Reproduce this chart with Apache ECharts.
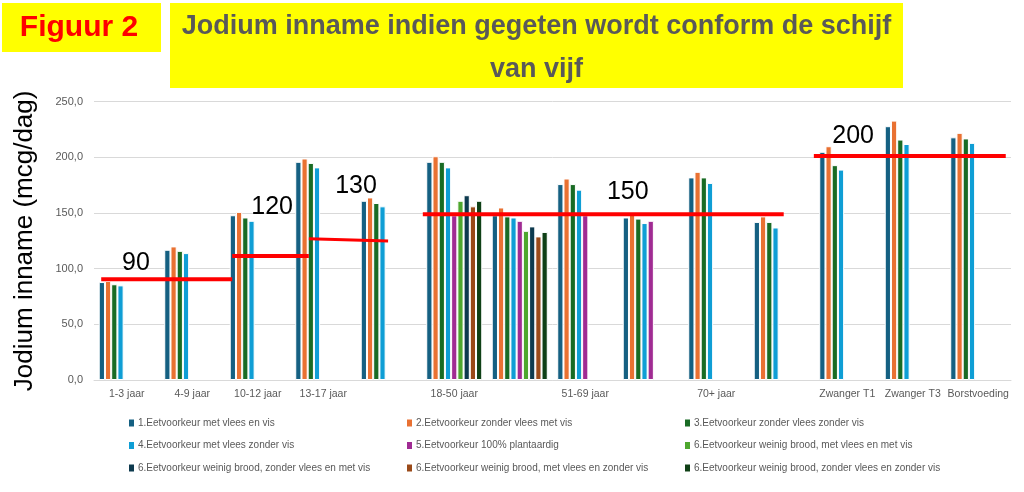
<!DOCTYPE html>
<html><head><meta charset="utf-8">
<script src="https://cdn.jsdelivr.net/npm/echarts@6/dist/echarts.min.js"></script>
<style>html,body{margin:0;padding:0;background:#fff}#c{width:1024px;height:492px}</style>
</head><body><div id="c"></div>
<script>
const categories = ['1-3 jaar','4-9 jaar','10-12 jaar','13-17 jaar','','18-50 jaar','','51-69 jaar','','70+ jaar','','Zwanger T1','Zwanger T3','Borstvoeding'];
const seriesNames = [
  '1.Eetvoorkeur met vlees en vis',
  '2.Eetvoorkeur zonder vlees met vis',
  '3.Eetvoorkeur zonder vlees zonder vis',
  '4.Eetvoorkeur met vlees zonder vis',
  '5.Eetvoorkeur 100% plantaardig',
  '6.Eetvoorkeur weinig brood, met vlees en met vis',
  '6.Eetvoorkeur weinig brood, zonder vlees en met vis',
  '6.Eetvoorkeur weinig brood, met vlees en zonder vis',
  '6.Eetvoorkeur weinig brood, zonder vlees en zonder vis'
];
const s1 = [88, 117, 148, 196, 161, 196, 148, 176, 146, 182, 142, 205, 228, 218];
const s2 = [89, 120, 151, 199, 164, 201, 155, 181, 149, 187, 147, 210, 233, 222];
const s3 = [86, 116, 146, 195, 159, 196, 147, 176, 145, 182, 142, 193, 216, 217];
const s4 = [85, 114, 143, 191, 156, 191, 146, 171, 141, 177, 137, 189, 212, 213];
const s5 = ['-','-','-','-','-', 148, 143, 148, 143, '-','-','-','-','-'];
const s6 = ['-','-','-','-','-', 161, 134, '-','-','-','-','-','-','-'];
const s7 = ['-','-','-','-','-', 166, 138, '-','-','-','-','-','-','-'];
const s8 = ['-','-','-','-','-', 156, 129, '-','-','-','-','-','-','-'];
const s9 = ['-','-','-','-','-', 161, 133, '-','-','-','-','-','-','-'];
const seriesValues = [s1, s2, s3, s4, s5, s6, s7, s8, s9];
// reference lines (category units on x, mcg/dag on y)
const refLineStart = [[-0.39, 90.4], [1.61, 111.4], [2.78, 126.9], [4.52, 148.8], [10.49, 201.2]];
const refLineEnd   = [[1.61, 90.4], [2.78, 111.4], [3.99, 124.9], [10.03, 148.8], [13.42, 201.2]];
const refLabels = [[0.14, 105, '90'], [2.22, 155, '120'], [3.50, 174, '130'], [7.65, 169, '150'], [11.09, 219, '200']];

const colors = ['#156082','#E97132','#196B24','#0F9ED5','#A02B93','#4EA72E','#0D3A4E','#9A4A19','#0F4016'];
const font = 'Liberation Sans, Arial, sans-serif';

const chart = echarts.init(document.getElementById('c'), null, {renderer: 'canvas'});

const barSeries = seriesValues.map((vals, i) => ({
  name: seriesNames[i], type: 'bar', data: vals,
  barGap: '0%', barCategoryGap: '14.5%',
  itemStyle: {color: colors[i], borderColor: '#ffffff', borderWidth: 1},
  emphasis: {disabled: true}
}));
const lineSeries = refLineStart.map((p, i) => ({
  type: 'line', xAxisIndex: 1, data: [p, refLineEnd[i]], symbol: 'none', silent: true,
  lineStyle: {color: '#ff0000', width: i === 2 ? 3 : 4}, z: 5
}));
const labelSeries = {
  type: 'scatter', xAxisIndex: 1, data: refLabels, symbolSize: 0, silent: true, z: 6,
  itemStyle: {opacity: 1},
  label: {show: true, position: 'inside', formatter: p => p.value[2], color: '#000000', fontSize: 25, fontFamily: font, textBorderWidth: 0}
};

function legendCol(idxs, left) {
  return {
    orient: 'vertical', left: left, top: 417, padding: 0, itemGap: 10.5,
    itemWidth: 7, itemHeight: 9, icon: 'rect', selectedMode: false,
    data: idxs.map(i => seriesNames[i]),
    textStyle: {fontSize: 10, color: '#595959', fontFamily: font, lineHeight: 12, padding: [0,0,0,-2]}
  };
}

chart.setOption({
  animation: false,
  color: colors,
  grid: {left: 94, right: 13, top: 101.7, bottom: 112},
  xAxis: [{
    type: 'category', data: categories,
    axisLine: {show: true, lineStyle: {color: '#d9d9d9'}},
    axisTick: {show: false},
    axisLabel: {interval: 0, color: '#595959', fontSize: 10.5, fontFamily: font, margin: 9}
  }, {
    type: 'value', min: -0.5, max: 13.5, show: false
  }],
  yAxis: {
    type: 'value', min: 0, max: 250, interval: 50,
    name: 'Jodium inname (mcg/dag)', nameLocation: 'middle', nameGap: 56,
    nameTextStyle: {fontSize: 26, color: '#000', fontFamily: font},
    axisLine: {show: false}, axisTick: {show: false},
    axisLabel: {color: '#595959', fontSize: 11, fontFamily: font, margin: 11,
      formatter: v => v.toFixed(1).replace('.', ',')},
    splitLine: {lineStyle: {color: '#d9d9d9'}}
  },
  legend: [legendCol([0,3,6], 127), legendCol([1,4,7], 405), legendCol([2,5,8], 683)],
  graphic: [
    {type: 'rect', left: 2, top: 3, shape: {width: 159, height: 49}, style: {fill: '#ffff00'}},
    {type: 'text', style: {text: 'Figuur 2', x: 79, y: 28, fill: '#ff0000', font: 'bold 30px ' + font, textAlign: 'center', textVerticalAlign: 'middle'}},
    {type: 'rect', left: 170, top: 3, shape: {width: 733, height: 85}, style: {fill: '#ffff00'}},
    {type: 'text', style: {text: 'Jodium inname indien gegeten wordt conform de schijf\nvan vijf', x: 536.5, y: 48, fill: '#595959', font: 'bold 27px ' + font, textAlign: 'center', textVerticalAlign: 'middle', lineHeight: 43}}
  ],
  series: [...barSeries, ...lineSeries, labelSeries]
});
</script></body></html>
